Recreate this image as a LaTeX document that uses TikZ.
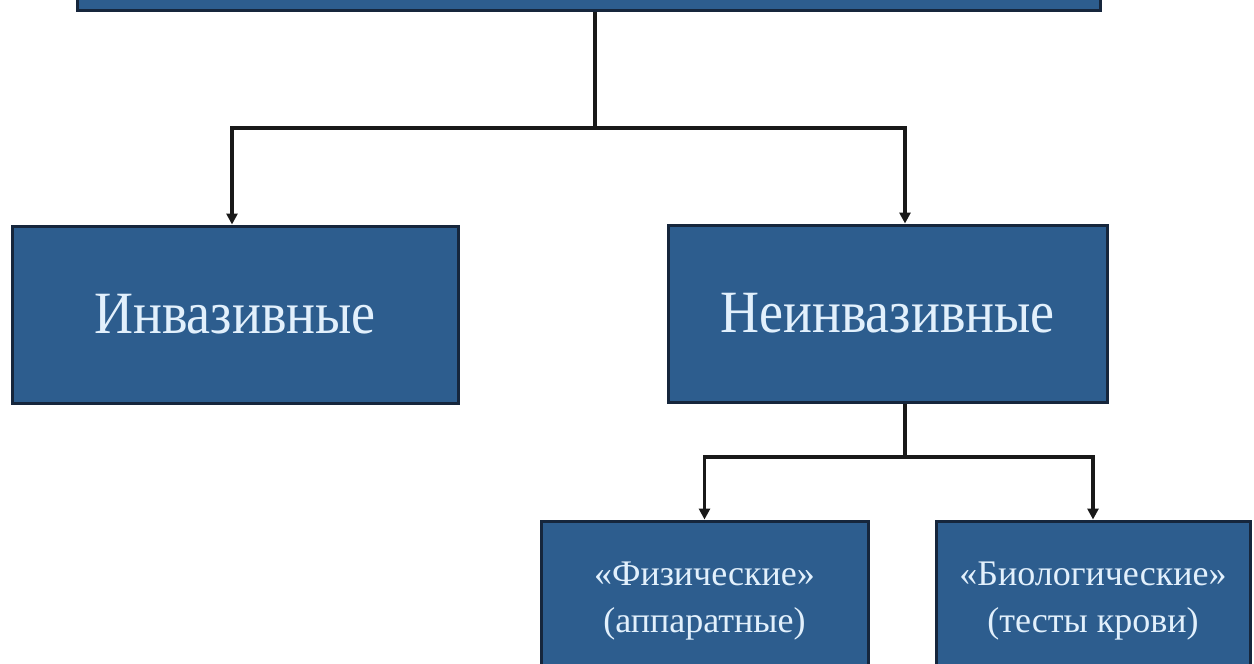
\documentclass[tikz,border=0pt]{standalone}
\usepackage{fontspec}
\setmainfont{Liberation Serif}
\newfontfamily\narrowserif[FakeStretch=0.9]{Liberation Serif}
\usetikzlibrary{arrows.meta}
\definecolor{boxfill}{RGB}{45,93,142}
\definecolor{boxline}{RGB}{22,38,60}
\definecolor{boxtext}{RGB}{226,240,252}
\tikzset{
  bluebox/.style={draw=boxline, line width=3pt, fill=boxfill, text=boxtext, inner sep=0pt, align=center},
  bigtext/.style={font=\narrowserif\fontsize{60}{64}\selectfont},
  smalltext/.style={font=\fontsize{36}{47}\selectfont},
  conn/.style={draw=black!90, line width=3.2pt},
  arr/.style={conn, -{Triangle[length=11pt,width=11pt]}}
}
\begin{document}
\begin{tikzpicture}[x=1pt,y=-1pt]
\clip (0,0) rectangle (1254,664);
\fill[white] (0,0) rectangle (1254,664);
\node[bluebox, minimum width=1023pt, minimum height=60pt] (top) at (588.5,-20) {};
\node[bluebox, bigtext, minimum width=446pt, minimum height=177pt] (inv) at (235,314.5) {Инвазивные};
\node[bluebox, bigtext, minimum width=439pt, minimum height=177pt] (neinv) at (887.5,313.5) {Неинвазивные};
\node[bluebox, smalltext, minimum width=327pt, minimum height=160pt] (fiz) at (704.5,601) {«Физические»\\(аппаратные)};
\node[bluebox, smalltext, minimum width=314pt, minimum height=160pt] (bio) at (1093,601) {«Биологические»\\(тесты крови)};
\coordinate (j1) at (595,128);
\coordinate (j2) at (905,457);
\draw[conn] (top.south -| j1) -- (j1);
\draw[arr] (j1) -| ([xshift=-3pt]inv.north);
\draw[arr] (j1) -| ([xshift=17.5pt]neinv.north);
\draw[conn] (neinv.south -| j2) -- (j2);
\draw[arr] (j2) -| (fiz.north);
\draw[arr] (j2) -| (bio.north);
\end{tikzpicture}
\end{document}
